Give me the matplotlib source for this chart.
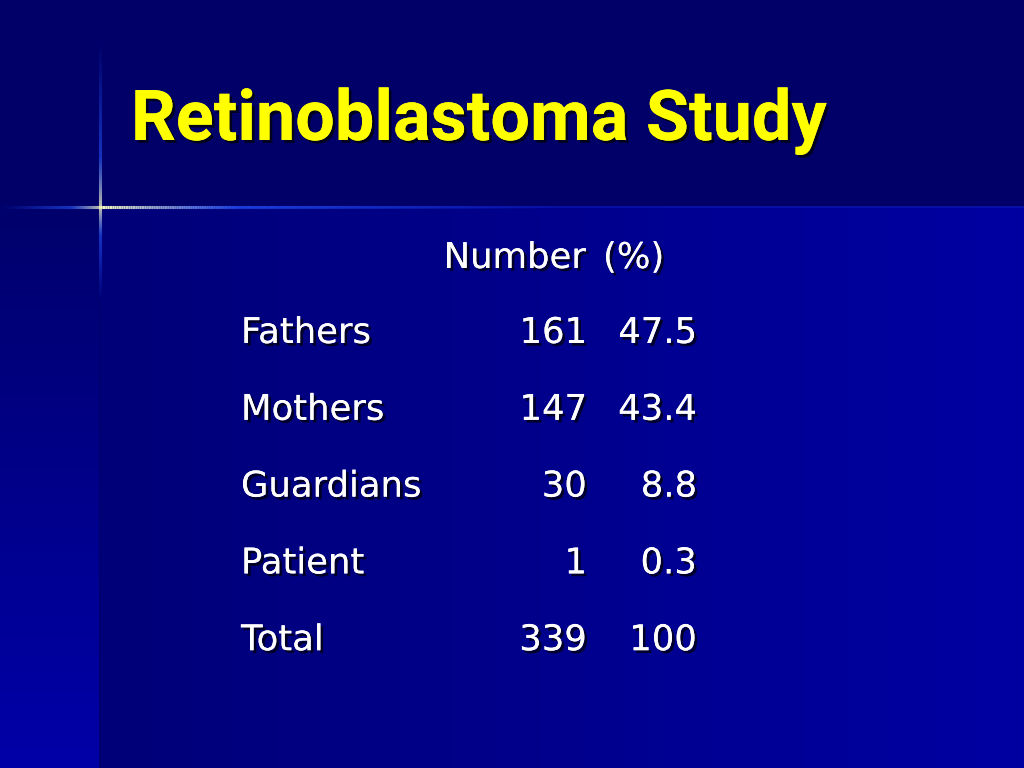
import numpy as np
import matplotlib
matplotlib.use("Agg")
import matplotlib.pyplot as plt
import matplotlib.patheffects as pe
from matplotlib.collections import LineCollection

title = "Retinoblastoma Study"
col_headers = ["Number", "(%)"]
groups = ["Fathers", "Mothers", "Guardians", "Patient", "Total"]
numbers = [161, 147, 30, 1, 339]
percents = ["47.5", "43.4", "8.8", "0.3", "100"]

W, H = 1024, 768
fig = plt.figure(figsize=(W / 100, H / 100), dpi=100)
ax = fig.add_axes([0, 0, 1, 1])
ax.set_xlim(0, W)
ax.set_ylim(H, 0)
ax.axis("off")

# background pieces
top = np.array([0, 0, 0x68]) / 255
ax.imshow(np.tile(top, (2, 2, 1)), extent=[0, W, 207, 0], aspect="auto", zorder=0)

t = np.linspace(0, 1, 256)
left_c = np.array([0, 0, 0x78]) / 255
right_c = np.array([0, 0, 0xA2]) / 255
grad = left_c[None, :] * (1 - t[:, None]) + right_c[None, :] * t[:, None]
ax.imshow(grad[None, :, :], extent=[100, W, H, 207], aspect="auto", zorder=0)

s_top = np.array([0, 0, 0x6c]) / 255
s_bot = np.array([0, 0, 0xA8]) / 255
strip = s_top[None, :] * (1 - t[:, None]) + s_bot[None, :] * t[:, None]
ax.imshow(strip[:, None, :], extent=[0, 100, H, 207], aspect="auto", zorder=0)

# glowing cross lines
cx, cy = 100, 207

def glow(p0, p1, n=200, lw=2.2):
    xs = np.linspace(p0[0], p1[0], n + 1)
    ys = np.linspace(p0[1], p1[1], n + 1)
    segs = [[(xs[i], ys[i]), (xs[i + 1], ys[i + 1])] for i in range(n)]
    d = np.hypot((xs[:-1] + xs[1:]) / 2 - cx, (ys[:-1] + ys[1:]) / 2 - cy)
    d = d / d.max()
    cols = []
    for v in d:
        w = max(0.0, 1 - v / 0.3)
        r = 0.15 + 0.85 * w
        g = 0.35 + 0.65 * w
        b = 1.0 - 0.25 * w
        a = max(0.0, 1 - v) ** 1.1
        cols.append((r, g, b, a))
    return LineCollection(segs, colors=cols, linewidths=lw, capstyle="butt", zorder=2)

ax.plot([cx, cx], [300, H], color=(0, 0, 0x70 / 255), lw=1.5, zorder=1)
ax.plot([180, W], [cy, cy], color=(0.05, 0.1, 0.75), lw=1.2, zorder=1, alpha=0.7)
ax.add_collection(glow((cx, cy), (0, cy)))
ax.add_collection(glow((cx, cy), (560, cy)))
ax.add_collection(glow((cx, cy), (cx, 40)))
ax.add_collection(glow((cx, cy), (cx, 300)))

shadow = [pe.withSimplePatchShadow(offset=(2, -2), shadow_rgbFace="black", alpha=0.7), pe.Normal()]
font = "DejaVu Sans"

ax.text(131, 140, title, color="#FFFF00", fontsize=50.5, fontweight="bold",
        family=["Roboto", "DejaVu Sans"], ha="left", va="baseline",
        path_effects=shadow, zorder=3)

row_fs = 25.5
ax.text(586, 268, col_headers[0], color="white", fontsize=row_fs, family=font,
        ha="right", va="baseline", path_effects=shadow, zorder=3)
ax.text(603, 268, col_headers[1], color="white", fontsize=row_fs, family=font,
        ha="left", va="baseline", path_effects=shadow, zorder=3)

y0, dy = 343, 76.8
for i, (g, n, p) in enumerate(zip(groups, numbers, percents)):
    y = y0 + i * dy
    ax.text(241, y, g, color="white", fontsize=row_fs, family=font,
            ha="left", va="baseline", path_effects=shadow, zorder=3)
    ax.text(587, y, str(n), color="white", fontsize=row_fs, family=font,
            ha="right", va="baseline", path_effects=shadow, zorder=3)
    ax.text(697, y, p, color="white", fontsize=row_fs, family=font,
            ha="right", va="baseline", path_effects=shadow, zorder=3)

fig.savefig("out.png", dpi=100)
